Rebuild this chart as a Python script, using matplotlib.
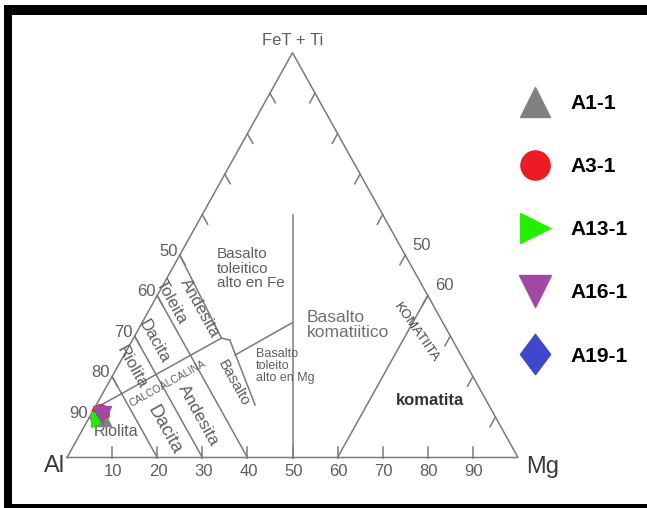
import numpy as np
import matplotlib
matplotlib.use("Agg")
import matplotlib.pyplot as plt
from matplotlib.patches import Rectangle
from matplotlib.lines import Line2D
from matplotlib.path import Path

plt.rcParams['font.family'] = ['Liberation Sans', 'DejaVu Sans']

# ---------------- data (ternary: Al, FeT+Ti, Mg) ----------------
samples = ["A1-1", "A3-1", "A13-1", "A16-1", "A19-1"]
sample_al = [87.1, 87.2, 88.2, 87.1, 87.0]
sample_fe = [9.8, 11.0, 9.5, 10.5, 10.8]
sample_mg = [3.1, 1.8, 2.3, 2.4, 2.2]
sample_colors = ["#808080", "#ed1c24", "#22ee00", "#a349a4", "#3f48cc"]

# field boundaries (Al, Fe, Mg)
al50_line = [(50, 50, 0), (51, 29.5, 19.5)]
al60_line = [(60, 40, 0), (60, 0, 40)]
al70_line = [(70, 30, 0), (70, 0, 30)]
al80_line = [(80, 20, 0), (80, 0, 20)]
th_ca_line = [(88, 12, 0), (51, 29.5, 19.5), (49.4, 29.0, 21.6)]
basalt_line = [(49.4, 29.0, 21.6), (51.8, 13.0, 35.2)]
hft_hmt_line = [(50.1, 25.3, 24.6), (33.4, 33.3, 33.3)]
kb_line = [(50, 0, 50), (20, 60, 20)]
komatiite_line = [(40, 0, 60), (0, 40, 60)]

tick_values = [10, 20, 30, 40, 50, 60, 70, 80, 90]
left_labels = [50, 60, 70, 80, 90]
right_labels = [50, 60]
base_labels = [10, 20, 30, 40, 50, 60, 70, 80, 90]


def tern(al, fe, mg):
    s = al + fe + mg
    return (mg + fe / 2.0) / s * 100.0, fe / s * 100.0


# custom tall diamond
tall_diamond = Path([(0, 1), (0.75, 0), (0, -1), (-0.75, 0), (0, 1)],
                    [Path.MOVETO, Path.LINETO, Path.LINETO, Path.LINETO, Path.CLOSEPOLY])
sample_markers = ["^", "o", ">", "v", tall_diamond]

# ---------------- figure ----------------
W, H = 647, 508
fig = plt.figure(figsize=(W / 100, H / 100), dpi=100)
ax_l, ax_r, ax_b, ax_t = 67, 518, 457.5, 52.7
ax = fig.add_axes([ax_l / W, (H - ax_b) / H, (ax_r - ax_l) / W, (ax_b - ax_t) / H])
ax.set_xlim(0, 100)
ax.set_ylim(0, 100)
ax.axis('off')

px_per_x = (ax_r - ax_l) / 100.0
px_per_y = (ax_b - ax_t) / 100.0
ang = np.degrees(np.arctan2(ax_b - ax_t, (ax_r - ax_l) / 2))  # left edge angle

LC = '#7a7a7a'
LW = 1.1
TC = '#5e5e5e'

# triangle outline
tri = [(100, 0, 0), (0, 0, 100), (0, 100, 0), (100, 0, 0)]
xs, ys = zip(*[tern(*p) for p in tri])
ax.plot(xs, ys, color=LC, lw=LW, solid_joinstyle='miter', clip_on=False)

for seg in [al50_line, al60_line, al70_line, al80_line, th_ca_line, basalt_line,
            hft_hmt_line, kb_line, komatiite_line]:
    xs, ys = zip(*[tern(*p) for p in seg])
    ax.plot(xs, ys, color=LC, lw=LW, clip_on=False)

# ticks
tl = 11.0  # px
for v in tick_values:
    x0, y0 = tern(100 - v, 0, v)
    ax.plot([x0, x0], [y0, y0 + tl / px_per_y], color=LC, lw=LW, clip_on=False)
    x0, y0 = tern(v, 100 - v, 0)
    d = np.array([0.5 * px_per_x, -1.0 * px_per_y])
    k = tl / np.hypot(*d)
    ax.plot([x0, x0 + 0.5 * k], [y0, y0 - k], color=LC, lw=LW, clip_on=False)
    x0, y0 = tern(0, 100 - v, v)
    ax.plot([x0, x0 - 0.5 * k], [y0, y0 - k], color=LC, lw=LW, clip_on=False)

# tick labels
for v in left_labels:
    ax.annotate(str(v), tern(v, 100 - v, 0), xytext=(-2, 4), textcoords='offset pixels',
                ha='right', va='center', fontsize=12, color=TC)
for v in right_labels:
    ax.annotate(str(v), tern(0, 100 - v, v), xytext=(7, 10), textcoords='offset pixels',
                ha='left', va='center', fontsize=12, color=TC)
for v in base_labels:
    ax.annotate(str(v), tern(100 - v, 0, v), xytext=(1, -6), textcoords='offset pixels',
                ha='center', va='top', fontsize=12, color=TC)

# apex labels
ax.annotate("FeT + Ti", tern(0, 100, 0), xytext=(0, 12), textcoords='offset pixels',
            ha='center', va='center', fontsize=12, color=TC)
ax.annotate("Al", tern(100, 0, 0), xytext=(-2, -9), textcoords='offset pixels',
            ha='right', va='center', fontsize=17, color='#3a3a3a')
ax.annotate("Mg", tern(0, 0, 100), xytext=(8, -9), textcoords='offset pixels',
            ha='left', va='center', fontsize=17, color='#3a3a3a')


def flabel(txt, xy, **kw):
    d = dict(ha='center', va='center', color=TC, rotation_mode='anchor', clip_on=False)
    d.update(kw)
    ax.text(xy[0], xy[1], txt, **d)


flabel("Basalto\ntoleitico\nalto en Fe", (33.3, 46.6), ha='left', fontsize=11, linespacing=1.05)
flabel("Basalto\nkomatiitico", (53.2, 32.7), ha='left', fontsize=12.5, linespacing=0.95, color='#707070')
flabel("Basalto\ntoleito\nalto en Mg", (41.9, 22.6), ha='left', fontsize=9, linespacing=1.05)
flabel("Toleita", (23.2, 38.5), rotation=-ang, fontsize=12)
flabel("Andesita", (29.5, 37.0), rotation=-ang, fontsize=12)
flabel("Dacita", (19.4, 28.6), rotation=-ang, fontsize=12)
flabel("Riolita", (14.3, 22.4), rotation=-ang, fontsize=12)
flabel("CALCOALCALINA", (22.4, 18.3), rotation=ang / 2 - 1.5, fontsize=7.5)
flabel("Dacita", (21.5, 6.8), rotation=-ang, fontsize=13.5)
flabel("Andesita", (29.1, 10.3), rotation=-ang, fontsize=12.5)
flabel("Basalto", (37.0, 18.3), rotation=-ang, fontsize=11)
flabel("Riolita", (10.9, 6.3), fontsize=11.5)
flabel("KOMATIITA", (77.5, 30.7), rotation=-55, fontsize=9.5, color='#444444')
flabel("komatita", (80.4, 14.2), fontsize=12, fontweight='bold', color='#333333')

# samples
plot_sizes = [12, 12.5, 12, 13, 9]
zorders = [3, 4, 5, 7, 6]
for i, name in enumerate(samples):
    x, y = tern(sample_al[i], sample_fe[i], sample_mg[i])
    ax.plot([x], [y], marker=sample_markers[i], color=sample_colors[i],
            ms=plot_sizes[i], ls='none', zorder=zorders[i], clip_on=False)

# legend proxies
legend_sizes = [22, 21, 22, 23, 29]
handles = [Line2D([], [], marker=sample_markers[i], color=sample_colors[i], ls='none',
                  ms=legend_sizes[i]) for i in range(len(samples))]
fig.legend(handles, samples, loc='upper left',
           bbox_to_anchor=(520 / W, 1 - 94 / H), frameon=False,
           prop={'weight': 'bold', 'size': 15},
           labelspacing=2.12, handlelength=1.4, handletextpad=1.0,
           borderpad=0, borderaxespad=0)


# black frame
def frect(x0, y0, x1, y1):
    fig.add_artist(Rectangle((x0 / W, 1 - y1 / H), (x1 - x0) / W, (y1 - y0) / H,
                             transform=fig.transFigure, color='black', lw=0))


frect(4, 5, 12, 508)
frect(4, 5, 647, 15)
frect(4, 504, 647, 508)

fig.savefig("out.png", dpi=100)
